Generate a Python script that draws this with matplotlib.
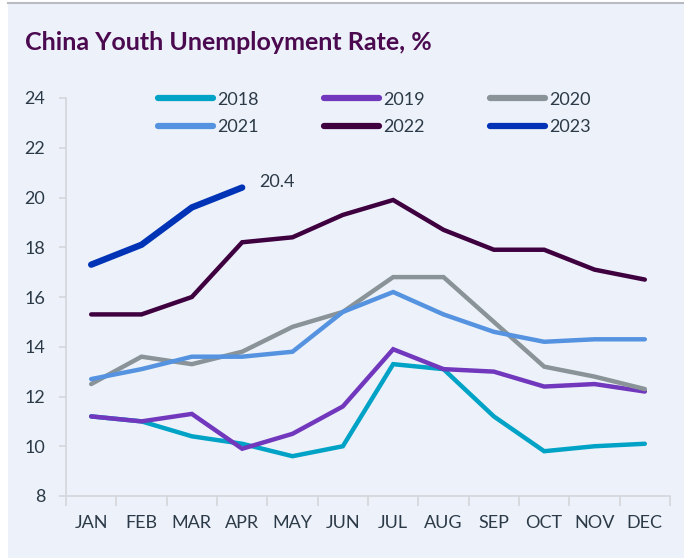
import matplotlib
matplotlib.use('Agg')
import matplotlib.pyplot as plt
from matplotlib.patches import Rectangle
from matplotlib.lines import Line2D
import numpy as np

# ============================================================
# Data: China youth unemployment rate (%), by month
# ============================================================
months = ['JAN', 'FEB', 'MAR', 'APR', 'MAY', 'JUN',
          'JUL', 'AUG', 'SEP', 'OCT', 'NOV', 'DEC']

y2018 = [11.2, 11.0, 10.4, 10.1, 9.6, 10.0, 13.3, 13.1, 11.2, 9.8, 10.0, 10.1]
y2019 = [11.2, 11.0, 11.3, 9.9, 10.5, 11.6, 13.9, 13.1, 13.0, 12.4, 12.5, 12.2]
y2020 = [12.5, 13.6, 13.3, 13.8, 14.8, 15.4, 16.8, 16.8, 15.0, 13.2, 12.8, 12.3]
y2021 = [12.7, 13.1, 13.6, 13.6, 13.8, 15.4, 16.2, 15.3, 14.6, 14.2, 14.3, 14.3]
y2022 = [15.3, 15.3, 16.0, 18.2, 18.4, 19.3, 19.9, 18.7, 17.9, 17.9, 17.1, 16.7]
y2023 = [17.3, 18.1, 19.6, 20.4]

years = ['2018', '2019', '2020', '2021', '2022', '2023']
series = [y2018, y2019, y2020, y2021, y2022, y2023]
colors = ['#00a2c6', '#7138bd', '#8a9498', '#5593e0', '#3f0040', '#0033b5']
widths = [3.2, 3.2, 3.2, 3.2, 3.2, 4.6]

yticks = [8, 10, 12, 14, 16, 18, 20, 22, 24]

plt.rcParams['font.family'] = ['Lato', 'DejaVu Sans']
text_col = '#2c3a48'
bg = '#edf2fa'

fig = plt.figure(figsize=(6.84, 5.58), dpi=100)
fig.patch.set_facecolor('white')
fig.patches.append(Rectangle((8 / 684, 0), 1 - 8 / 684, 1 - 4 / 558,
                             transform=fig.transFigure, facecolor=bg,
                             edgecolor='none', zorder=-5))
fig.lines.append(Line2D([8 / 684, 1], [1 - 3 / 558, 1 - 3 / 558],
                        transform=fig.transFigure, color='#b8bcc2', lw=1.5,
                        zorder=-4))

ax = fig.add_axes([66 / 684, 1 - 496 / 558, (670 - 66) / 684, (496 - 98) / 558])
ax.set_facecolor(bg)
ax.set_zorder(1)

x = np.arange(len(months))
for yr, vals, c, w in zip(years, series, colors, widths):
    ax.plot(x[:len(vals)], vals, color=c, lw=w, label=yr,
            solid_capstyle='round', solid_joinstyle='miter')

ax.annotate(f'{y2023[-1]}', xy=(3, y2023[-1]), xytext=(12, 4),
            textcoords='offset points', fontsize=13, color=text_col,
            va='center', ha='left')

ax.set_xlim(-0.5, 11.5)
ax.set_ylim(8, 24)
ax.set_yticks(yticks)
ax.set_yticklabels([str(t) for t in yticks], fontsize=13, color=text_col)
ax.set_xticks(x)
ax.set_xticklabels(months, fontsize=13, color=text_col)
ax.set_xticks(np.arange(-0.5, 12, 1), minor=True)
ax.tick_params(axis='x', which='major', length=0, pad=14)
ax.tick_params(axis='x', which='minor', length=7, color='#d4d6da', width=1.2)
ax.tick_params(axis='y', length=5, color='#d4d6da', width=1.2, pad=10)

for s in ['top', 'right']:
    ax.spines[s].set_visible(False)
for s in ['left', 'bottom']:
    ax.spines[s].set_color('#d4d6da')
    ax.spines[s].set_linewidth(1.2)

# legend is filled column-wise, so reorder to get rows 2018-2020 / 2021-2023
order = [0, 3, 1, 4, 2, 5]
handles = [Line2D([0], [0], color=colors[i], lw=4.5, solid_capstyle='round')
           for i in order]
leg = ax.legend(handles, [years[i] for i in order], ncol=3, loc='upper left',
                bbox_to_anchor=(0.125, 1.057), frameon=False, fontsize=13,
                handlelength=3.05, handletextpad=0.25, columnspacing=3.6,
                labelspacing=0.65)
for t in leg.get_texts():
    t.set_color(text_col)

fig.text(25 / 684, 1 - 42 / 558, 'China Youth Unemployment Rate, %',
         fontsize=18, fontweight='bold', color='#4b0a4f', va='center', ha='left')

fig.savefig('out.png', dpi=100, facecolor=fig.get_facecolor())
